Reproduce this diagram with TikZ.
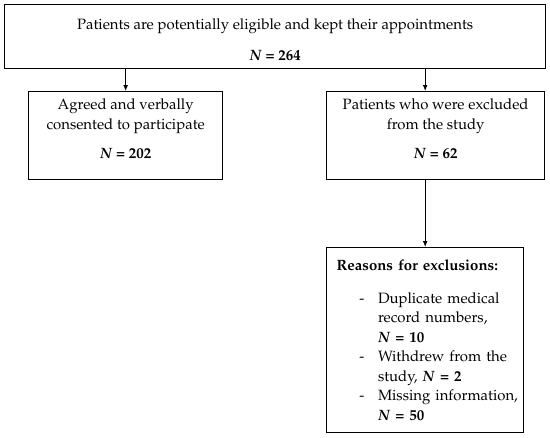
\documentclass[tikz,border=0pt]{standalone}
\usepackage[T1]{fontenc}
\usepackage{mathpazo}
\usepackage{tikz}
\usetikzlibrary{arrows.meta}
\newcommand{\rdash}{\hspace*{17pt}\makebox[14pt][l]{-}}
\newcommand{\rind}{\hspace*{31pt}}
\newcommand{\nval}[1]{\textbf{\textit{N} = #1}}

\begin{document}
\begin{tikzpicture}[
    x=0.75pt, y=-0.75pt,
    box/.style={draw=black, line width=1pt, align=center, inner sep=0pt,
                font=\fontsize{11.2}{14.6}\selectfont},
    arr/.style={-{Latex[length=4.5pt,width=3.6pt]}, line width=0.6pt, draw=black}
]
\useasboundingbox (0,0) rectangle (550,437);
\node[box, anchor=north west, minimum width=405.75pt, minimum height=48pt] (elig) at (4,4)
    {\rule{0pt}{13pt}Patients are potentially eligible and kept their appointments\\[9pt]\nval{264}};
\node[box, anchor=north west, minimum width=145.5pt, minimum height=66pt] (agreed) at (28,91)
    {Agreed and verbally\\consented to participate\\[7.5pt]\nval{202}\rule[-10pt]{0pt}{10pt}};
\node[box, anchor=north west, minimum width=163.5pt, minimum height=66pt] (excl) at (326,91)
    {Patients who were excluded\\from the study\\[7.5pt]\nval{62}\rule[-10pt]{0pt}{10pt}};
\node[box, anchor=north west, minimum width=147.75pt, minimum height=138.75pt,
      align=left, text width=132.75pt, inner xsep=7.5pt] (reasons) at (326,247)
    {\textbf{Reasons for exclusions:}\\[10pt]
     \rdash\mbox{Duplicate medical}\\
     \rind\mbox{record numbers,}\\
     \rind\nval{10}\\
     \rdash\mbox{Withdrew from the}\\
     \rind\mbox{study, \nval{2}}\\
     \rdash\mbox{Missing information,}\\
     \rind\nval{50}};
\draw[arr] (elig.south -| agreed.north) -- (agreed.north);
\draw[arr] (elig.south -| reasons.north) -- (excl.north -| reasons.north);
\draw[arr] (excl.south -| reasons.north) -- (reasons.north);
\end{tikzpicture}
\end{document}
